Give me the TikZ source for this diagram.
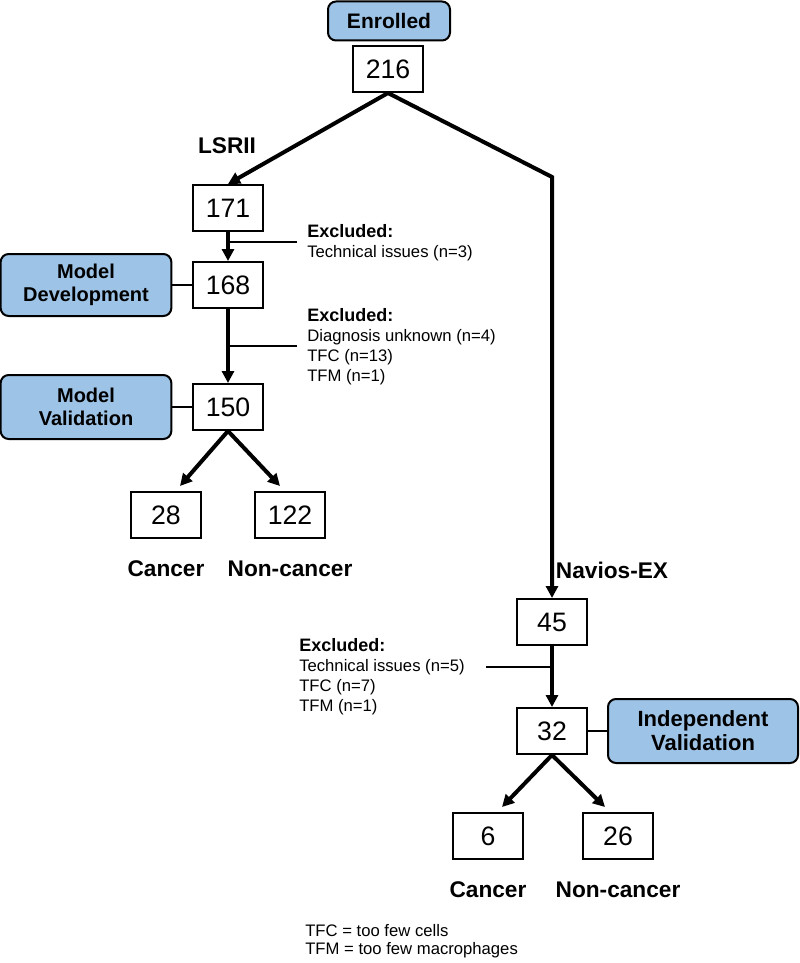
\documentclass[tikz,border=0pt]{standalone}
\usepackage{fontspec}
\setmainfont{Liberation Sans}
\usepackage{tikz}
\usetikzlibrary {arrows.meta,calc}
\definecolor{stageblue}{HTML}{9DC3E6}

\begin{document}
\begin{tikzpicture}[x=0.75pt,y=-0.75pt,
            numbox/.style={draw,line width=1.5pt,minimum width=52pt,minimum height=34.5pt,inner sep=0pt,font=\fontsize{20}{22}\selectfont},
            stagebox/.style={draw,line width=1.5pt,rounded corners=6pt,fill=stageblue,inner sep=0pt,align=center,font=\bfseries\fontsize{15}{17.25}\selectfont},
            grouplabel/.style={inner sep=0pt,font=\bfseries\fontsize{17}{19}\selectfont},
            exnote/.style={anchor=west,align=left,inner sep=0pt,font=\fontsize{12.5}{15}\selectfont},
            flow/.style={line width=3pt,-{Triangle[length=9pt,width=9pt]}},
            joint/.style={line width=1.5pt}]
            \useasboundingbox (0,0) rectangle (799,963);
            \node[stagebox,minimum width=91.5pt,minimum height=29.25pt,font=\bfseries\fontsize{15.75}{18}\selectfont] (enrolled) at (389,21) {Enrolled};
            \node[numbox] (n216) at (388,69) {216};
            \node[numbox] (n171) at (228,208) {171};
            \node[numbox] (n168) at (228,285) {168};
            \node[numbox] (n150) at (228,407) {150};
            \node[numbox] (n28) at (166,515) {28};
            \node[numbox] (n122) at (290,515) {122};
            \node[stagebox,minimum width=128pt,minimum height=46.5pt] (dev) at (86,285) {Model\\Development};
            \node[stagebox,minimum width=128pt,minimum height=48pt] (val) at (86,407) {Model\\Validation};
            \node[numbox] (n45) at (552,622) {45};
            \node[numbox] (n32) at (552,731) {32};
            \node[numbox] (n6) at (488,836) {6};
            \node[numbox] (n26) at (618,836) {26};
            \node[stagebox,minimum width=142.5pt,minimum height=48pt,font=\bfseries\fontsize{16.5}{18}\selectfont] (indep) at (703,731) {Independent\\Validation};
            \node[grouplabel] (lsrii) at (227,146) {LSRII};
            \node[grouplabel] (navios) at (612,570) {Navios-EX};
            \node[grouplabel] (cancerA) at (166,569) {Cancer};
            \node[grouplabel] (noncancerA) at (290,569) {Non-cancer};
            \node[grouplabel] (cancerB) at (488,890) {Cancer};
            \node[grouplabel] (noncancerB) at (618,890) {Non-cancer};
            \node[exnote] (ex1) at (307,243) {{\bfseries\fontsize{13.5}{15}\selectfont Excluded:}\\Technical issues (n=3)};
            \node[exnote] (ex2) at (307,347) {{\bfseries\fontsize{13.5}{15}\selectfont Excluded:}\\Diagnosis unknown (n=4)\\TFC (n=13)\\TFM (n=1)};
            \node[exnote] (ex3) at (299,677) {{\bfseries\fontsize{13.5}{15}\selectfont Excluded:}\\Technical issues (n=5)\\TFC (n=7)\\TFM (n=1)};
            \node[exnote,font=\fontsize{12.5}{13.5}\selectfont] (key) at (305,941) {TFC = too few cells\\TFM = too few macrophages};
            \coordinate (bend) at (552,177);
            \coordinate (cut1) at (297,242);
            \coordinate (cut2) at (297,346);
            \coordinate (cut3) at (486,667);
            \draw[flow] (n216.south) -- (n171.north);
            \draw[flow] (n216.south) -- (bend) -- (n45.north);
            \draw[flow] (n171) -- (n168);
            \draw[joint] (cut1) -- (cut1 -| n171);
            \draw[flow] (n168) -- (n150);
            \draw[joint] (cut2) -- (cut2 -| n168);
            \draw[flow] (n150.south) -- ($(n28.north)+(14,-5)$);
            \draw[flow] (n150.south) -- ($(n122.north)+(-10,-5)$);
            \draw[joint] (dev) -- (n168);
            \draw[joint] (val) -- (n150);
            \draw[flow] (n45) -- (n32);
            \draw[joint] (cut3) -- (cut3 -| n45);
            \draw[joint] (n32) -- (indep);
            \draw[flow] (n32.south) -- ($(n6.north)+(14,-5)$);
            \draw[flow] (n32.south) -- ($(n26.north)+(-13,-5)$);
        \end{tikzpicture}
\end{document}
